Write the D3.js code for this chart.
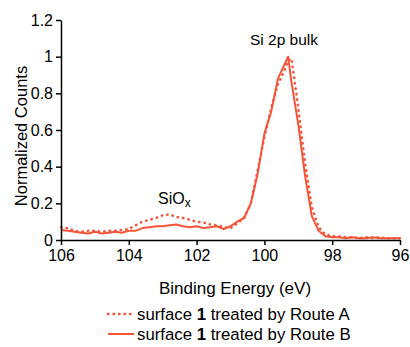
<!DOCTYPE html>
<html>
<head>
<meta charset="utf-8">
<script src="https://cdn.jsdelivr.net/npm/d3@7"></script>
<style>
  body { margin: 0; background: #fff; }
  svg { font-family: "Liberation Sans", Arial, sans-serif; }
  .axis path, .axis line { stroke: #000; stroke-width: 1.5; }
  .axis text { font-size: 16px; fill: #000; }
</style>
</head>
<body>
<div></div>
<script>
let energy = [106.0, 105.8, 105.6, 105.4, 105.2, 105.0, 104.8, 104.6, 104.4, 104.2,
  104.0, 103.8, 103.6, 103.4, 103.2, 103.0, 102.8, 102.6, 102.4, 102.2,
  102.0, 101.8, 101.6, 101.4, 101.2, 101.0, 100.8, 100.6, 100.4, 100.2,
  100.0, 99.8, 99.6, 99.4, 99.3, 99.2, 99.0, 98.8, 98.6, 98.4,
  98.2, 98.0, 97.8, 97.6, 97.4, 97.2, 97.0, 96.8, 96.6, 96.4, 96.2, 96.0]

let routeA = [0.07, 0.065, 0.05, 0.045, 0.05, 0.05, 0.045, 0.05, 0.05, 0.055,
  0.06, 0.08, 0.1, 0.11, 0.12, 0.135, 0.14, 0.125, 0.12, 0.11,
  0.1, 0.095, 0.085, 0.08, 0.07, 0.065, 0.09, 0.12, 0.2, 0.38,
  0.56, 0.72, 0.85, 0.93, 0.98, 0.99, 0.72, 0.42, 0.18, 0.07,
  0.03, 0.02, 0.02, 0.015, 0.015, 0.01, 0.015, 0.01, 0.015, 0.01, 0.01, 0.01]

let routeB = [0.055, 0.05, 0.045, 0.04, 0.035, 0.045, 0.035, 0.04, 0.045, 0.04,
  0.05, 0.05, 0.065, 0.07, 0.075, 0.075, 0.08, 0.085, 0.075, 0.07,
  0.075, 0.065, 0.07, 0.075, 0.06, 0.075, 0.1, 0.12, 0.2, 0.36,
  0.58, 0.7, 0.88, 0.96, 1.0, 0.86, 0.63, 0.35, 0.13, 0.05,
  0.02, 0.015, 0.015, 0.01, 0.015, 0.01, 0.01, 0.015, 0.01, 0.01, 0.01, 0.01]

let xTicks = [106, 104, 102, 100, 98, 96]
let yTicks = [0, 0.2, 0.4, 0.6, 0.8, 1, 1.2]

let w = 410, h = 347
let padL = 61, padR = 400, padT = 20, padB = 240
let col = "#f4553a"

let svg = d3.select("div").append("svg").attr("width", w).attr("height", h)

let x = d3.scaleLinear().domain([106, 96]).range([padL, padR])
let y = d3.scaleLinear().domain([0, 1.2]).range([padB, padT])

let line = (vals) => d3.line()
  .x((d, i) => x(energy[i]))
  .y(d => y(d))(vals)

svg.append("path")
  .attr("d", line(routeB))
  .attr("fill", "none").attr("stroke", col).attr("stroke-width", 2)
  .attr("stroke-linejoin", "round")

svg.append("path")
  .attr("d", line(routeA))
  .attr("fill", "none").attr("stroke", col).attr("stroke-width", 2.5)
  .attr("stroke-linecap", "round")
  .attr("stroke-dasharray", "0.5,5")

svg.append("g").attr("class", "axis")
  .attr("transform", "translate(0," + padB + ")")
  .call(d3.axisBottom(x).tickValues(xTicks).tickSize(5).tickSizeOuter(0).tickPadding(5))

svg.append("g").attr("class", "axis")
  .attr("transform", "translate(" + padL + ",0)")
  .call(d3.axisLeft(y).tickValues(yTicks).tickSize(5).tickSizeOuter(0).tickPadding(3)
    .tickFormat(d => d3.format("")(d)))

svg.append("text")
  .attr("x", 235).attr("y", 294)
  .attr("text-anchor", "middle").attr("font-size", 17)
  .text("Binding Energy (eV)")

svg.append("text")
  .attr("transform", "translate(27," + ((padT + padB) / 2 + 6) + ") rotate(-90)")
  .attr("text-anchor", "middle").attr("font-size", 16.5)
  .text("Normalized Counts")

svg.append("text")
  .attr("x", 284).attr("y", 45)
  .attr("text-anchor", "middle").attr("font-size", 15.5)
  .text("Si 2p bulk")

let siox = svg.append("text")
  .attr("x", 158).attr("y", 204).attr("font-size", 16)
siox.append("tspan").text("SiO")
siox.append("tspan").attr("font-size", 12).attr("dy", 3).text("x")

// legend
let legend = [["Route A", "0.5,5"], ["Route B", null]]
legend.forEach((l, i) => {
  let ly = 314 + i * 20
  let ln = svg.append("line")
    .attr("x1", 108).attr("x2", 134).attr("y1", ly).attr("y2", ly)
    .attr("stroke", col)
  if (l[1]) {
    ln.attr("stroke-width", 2.5).attr("stroke-linecap", "round").attr("stroke-dasharray", l[1])
  } else {
    ln.attr("stroke-width", 2)
  }
  let t = svg.append("text").attr("x", 137).attr("y", ly + 6).attr("font-size", 16.8)
  t.append("tspan").text("surface ")
  t.append("tspan").attr("font-weight", "bold").text("1")
  t.append("tspan").text(" treated by " + l[0])
})
</script>
</body>
</html>
